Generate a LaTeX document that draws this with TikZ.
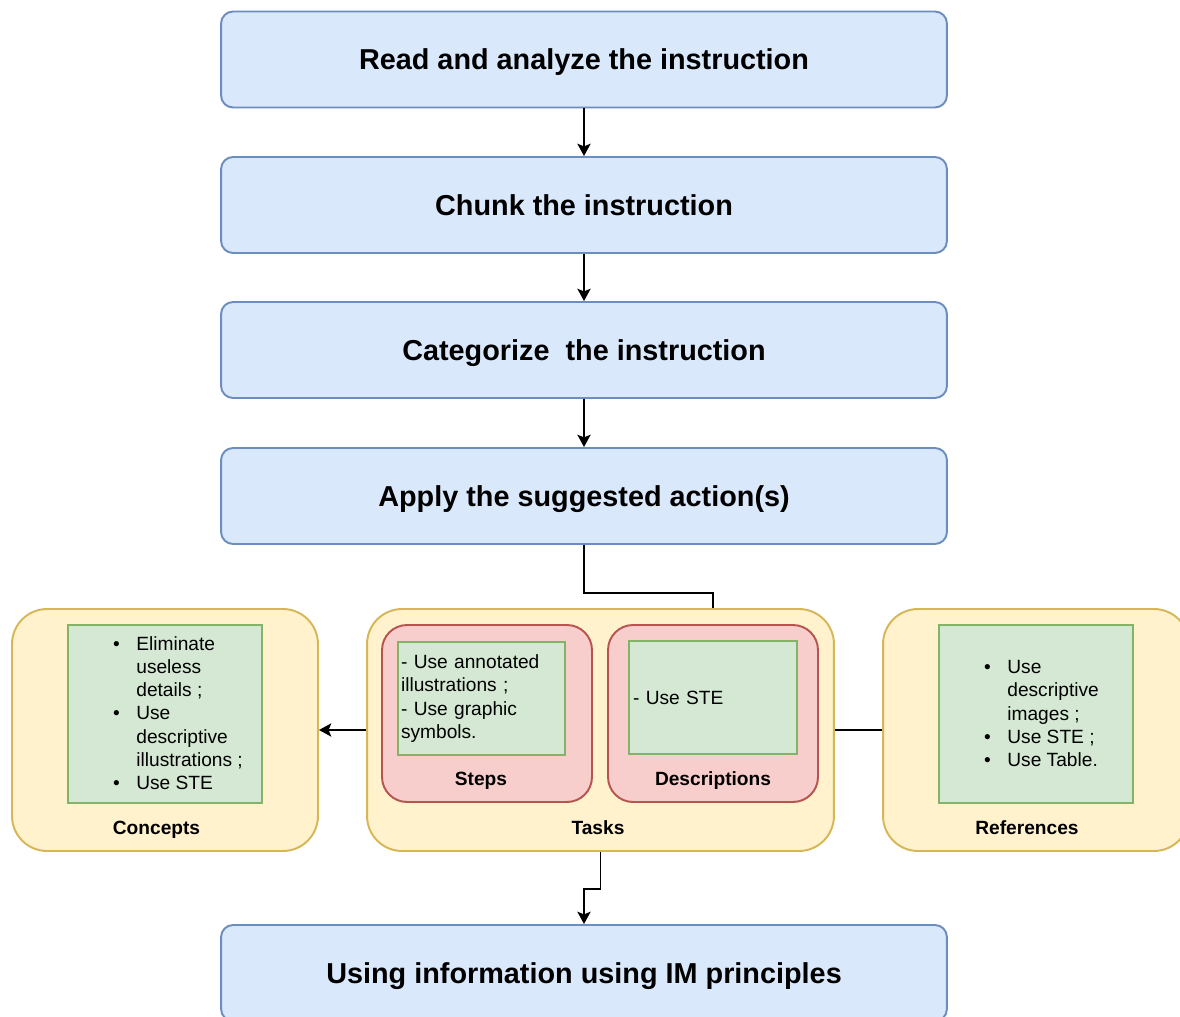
\documentclass[tikz,border=0pt]{standalone}
\usepackage{fontspec}
\setmainfont{Liberation Sans}
\usetikzlibrary{arrows.meta}

\definecolor{stagefill}{HTML}{DAE8FC}
\definecolor{stageline}{HTML}{6C8EBF}
\definecolor{groupfill}{HTML}{FFF2CC}
\definecolor{groupline}{HTML}{D6B656}
\definecolor{kindfill}{HTML}{F8CECC}
\definecolor{kindline}{HTML}{B85450}
\definecolor{hintfill}{HTML}{D5E8D4}
\definecolor{hintline}{HTML}{82B366}

\newcommand{\listdot}{\llap{\textbullet\hspace{9.4pt}}}

\tikzset{
  stage/.style={draw=stageline, fill=stagefill, line width=1.1pt,
    rounded corners=0.24cm, minimum width=14.52cm, minimum height=1.92cm,
    text depth=0pt, font=\fontsize{16.4}{19.7}\selectfont\bfseries},
  group/.style={draw=groupline, fill=groupfill, line width=1.1pt,
    rounded corners=0.7cm, minimum height=4.84cm},
  kind/.style={draw=kindline, fill=kindfill, line width=1.1pt,
    rounded corners=0.5cm, minimum width=4.2cm, minimum height=3.54cm},
  hint/.style={draw=hintline, fill=hintfill, line width=1.1pt,
    align=left, font=\fontsize{10.9}{13.2}\selectfont},
  caption/.style={text depth=0pt, font=\fontsize{10.9}{13.2}\selectfont\bfseries},
  listtext/.style={font=\fontsize{10.9}{13.2}\selectfont, align=left,
    inner sep=0pt, anchor=west},
  link/.style={line width=1.1pt},
  arrow/.style={link, -{Stealth[length=7pt,width=7.5pt,inset=1.5pt]}}
}

\begin{document}
\begin{tikzpicture}[x=0.02cm, y=-0.02cm]
  \useasboundingbox (0,0) rectangle (1180,1017);

  % main flow
  \node[stage] (read)      at (584,59.5) {Read and analyze the instruction};
  \node[stage] (chunk)     at (584,205)  {Chunk the instruction};
  \node[stage] (categorize) at (584,350) {Categorize\ \ the instruction};
  \node[stage] (apply)     at (584,496)  {Apply the suggested action(s)};
  \node[stage] (usinginfo) at (584,973)  {Using information using IM principles};

  % categories
  \node[group, minimum width=6.12cm] (concepts)   at (165,730)    {};
  \node[group, minimum width=9.34cm] (tasks)      at (600.5,730)  {};
  \node[group, minimum width=6.12cm] (references) at (1036,730)   {};

  \node[hint, minimum width=3.88cm, minimum height=3.56cm] (concepts-hint) at (165,714) {};
  \node[listtext] (concepts-list) at (136,713) {%
    \listdot Eliminate\\useless\\details ;\\
    \listdot Use\\descriptive\\illustrations ;\\
    \listdot Use STE};
  \node[caption] (concepts-lbl) at (156.5,828) {Concepts};

  \node[kind] (steps) at (487,713.5) {};
  \node[kind] (descriptions) at (713,713.5) {};
  \node[hint, minimum height=2.26cm, inner xsep=0.06cm, text width=3.22cm]
    (steps-hint) at (481.5,698.5) {- Use annotated\\illustrations ;\\- Use graphic\\symbols.};
  \node[hint, minimum height=2.26cm, inner xsep=0.08cm, text width=3.2cm]
    (descriptions-hint) at (713,697.5) {- Use STE};
  \node[caption] (steps-lbl) at (481,779) {Steps};
  \node[caption] (descriptions-lbl) at (713,779) {Descriptions};
  \node[caption] (tasks-lbl) at (598,828) {Tasks};

  \node[hint, minimum width=3.88cm, minimum height=3.56cm] (references-hint) at (1036,714) {};
  \node[listtext] (references-list) at (1007,713.5) {%
    \listdot Use\\descriptive\\images ;\\
    \listdot Use STE ;\\
    \listdot Use Table.};
  \node[caption] (references-lbl) at (1027,828) {References};

  % connectors
  \draw[arrow] (read) -- (chunk);
  \draw[arrow] (chunk) -- (categorize);
  \draw[arrow] (categorize) -- (apply);
  \draw[link] (apply.south) -- ++(0,48) -| (descriptions.north |- tasks.north);
  \draw[arrow] (tasks) -- (concepts);
  \draw[link] (tasks) -- (references);
  \draw[arrow] (tasks.south) -- ++(0,37) -| (usinginfo.north);
\end{tikzpicture}
\end{document}
